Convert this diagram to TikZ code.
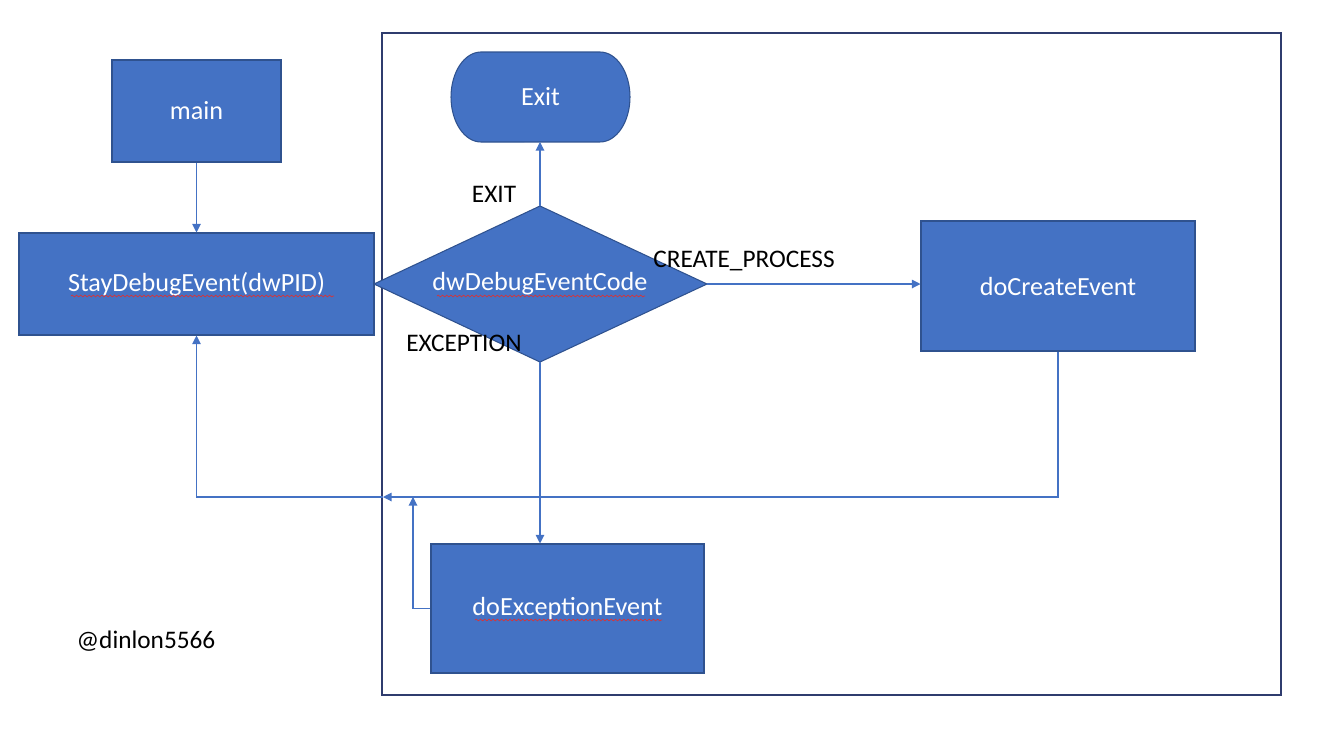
\documentclass[tikz,border=0pt]{standalone}
\usepackage{fontspec}
\setmainfont{Carlito}
\usetikzlibrary{arrows.meta,decorations.pathmorphing}
\definecolor{fillblue}{HTML}{4472C4}
\definecolor{edgeblue}{HTML}{2F528F}
\definecolor{framecol}{HTML}{2F3C6E}
\definecolor{squig}{HTML}{E03030}
\tikzset{
  x=0.02cm, y=-0.02cm,
  boxnode/.style={draw=edgeblue, line width=0.6pt, fill=fillblue, text=white, inner sep=0pt,
    font=\fontsize{14.9}{18}\selectfont},
  lbl/.style={text=black, inner sep=0pt, font=\fontsize{14.4}{17}\selectfont},
  conn/.style={draw=fillblue, line width=0.6pt},
  arr/.style={conn, -{Triangle[length=0.17cm,width=0.17cm]}},
  squiggle/.style={draw=squig, line width=0.35pt, decorate, decoration={snake, amplitude=0.5pt, segment length=2.4pt}}
}
\begin{document}
\begin{tikzpicture}
\useasboundingbox (0,0) rectangle (1319,731);
% frame
\draw[framecol, line width=0.6pt] (382,33) rectangle (1281,695);
% boxes
\node[boxnode, minimum width=169*0.02cm, minimum height=102*0.02cm] (main) at (196.5,111) {main};
\node[boxnode, minimum width=355*0.02cm, minimum height=102*0.02cm] (stay) at (196.5,284) {StayDebugEvent(dwPID)};
\node[boxnode, minimum width=274*0.02cm, minimum height=130*0.02cm] (create) at (1058,286) {doCreateEvent};
\node[boxnode, minimum width=273*0.02cm, minimum height=129*0.02cm] (exc) at (567.5,608.5) {doExceptionEvent};
% Exit terminator
\draw[edgeblue, line width=0.6pt, fill=fillblue]
  (481,52) -- (600,52) arc[start angle=90, end angle=-90, x radius=0.6cm, y radius=0.9cm]
  -- (481,142) arc[start angle=270, end angle=90, x radius=0.6cm, y radius=0.9cm] -- cycle;
\node[text=white, inner sep=0pt, font=\fontsize{14.9}{18}\selectfont] (exit) at (540.5,97) {Exit};
\coordinate (exitb) at (540,142);
% diamond
\coordinate (dtop) at (540,206);
\coordinate (dright) at (707,284);
\coordinate (dbot) at (540,362);
\coordinate (dleft) at (374,284);
\draw[edgeblue, line width=0.6pt, fill=fillblue] (dtop) -- (dright) -- (dbot) -- (dleft) -- cycle;
\node[text=white, inner sep=0pt, font=\fontsize{14.9}{18}\selectfont] (code) at (540,284) {dwDebugEventCode};
% spell-check squiggles
\draw[squiggle] (71,296) -- (334,296);
\draw[squiggle] (437,296) -- (645,296);
\draw[squiggle] (475,620) -- (662,620);
% connectors
\draw[arr] (main.south) -- (stay.north);
\draw[arr] (dtop) -- (exitb);
\draw[arr] (dright) -- (create.west |- dright);
\draw[arr] (dbot) -- (dbot |- exc.north);
\coordinate (j1) at (383,497);
\coordinate (j2) at (413,497);
\draw[arr] (create.south) |- (j1);
\draw[arr] (j1) -| (stay.south);
\draw[arr] (exc.west) -| (j2);
% labels
\node[lbl] (lexit) at (494,194) {EXIT};
\node[lbl] (lcreate) at (744,261) {CREATE\_PROCESS};
\node[lbl] (lexc) at (464,343) {EXCEPTION};
\node[lbl] (sig) at (146,641) {@dinlon5566};
\end{tikzpicture}
\end{document}
